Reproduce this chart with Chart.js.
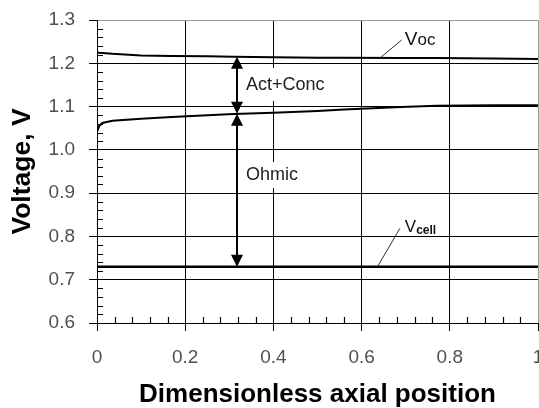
<!DOCTYPE html>
<html>
<head>
<meta charset="utf-8">
<script src="https://cdn.jsdelivr.net/npm/chart.js@4"></script>
<style>
  html, body { margin: 0; padding: 0; background: #fff; }
  #wrap { width: 539px; height: 408px; }
</style>
</head>
<body>
<div id="wrap"><canvas id="c" width="539" height="408"></canvas></div>
<script>
// Axial position along the cell (dimensionless)
const position = [0, 0.005, 0.012, 0.035, 0.1, 0.17, 0.25, 0.31, 0.4, 0.5, 0.56, 0.69, 0.77, 0.9, 1.0];
// Open-circuit voltage, V
const vOpenCircuit = [1.225, 1.2245, 1.224, 1.222, 1.218, 1.217, 1.216, 1.215, 1.214, 1.213, 1.213, 1.212, 1.212, 1.211, 1.210];
// Voltage after activation + concentration losses, V
const vAfterActConc = [1.042, 1.055, 1.062, 1.067, 1.072, 1.076, 1.080, 1.083, 1.086, 1.090, 1.093, 1.099, 1.102, 1.103, 1.103];
// Cell voltage, V
const vCell = [0.73, 0.73, 0.73, 0.73, 0.73, 0.73, 0.73, 0.73, 0.73, 0.73, 0.73, 0.73, 0.73, 0.73, 0.73];

const xTicks = [0, 0.2, 0.4, 0.6, 0.8, 1];
const yTicks = [0.6, 0.7, 0.8, 0.9, 1.0, 1.1, 1.2, 1.3];
const xMinorStep = 0.04;
const yMinorStep = 0.02;

// where the loss arrows are drawn
const arrowAt = 0.317;

const FONT = "'Liberation Sans', Arial, sans-serif";

function pairs(ys) { return position.map((x, i) => ({ x: x, y: ys[i] })); }
function valueAt(ys, x) {
  for (let i = 1; i < position.length; i++) {
    if (x <= position[i]) {
      const t = (x - position[i - 1]) / (position[i] - position[i - 1]);
      return ys[i - 1] + t * (ys[i] - ys[i - 1]);
    }
  }
  return ys[ys.length - 1];
}

function arrowHead(ctx, x, yTip, dir) {
  // dir = -1 points up, +1 points down
  const w = 6, l = 12;
  ctx.beginPath();
  ctx.moveTo(x, yTip);
  ctx.lineTo(x - w, yTip - dir * l);
  ctx.lineTo(x + w, yTip - dir * l);
  ctx.closePath();
  ctx.fill();
}

const decorations = {
  id: 'decorations',
  beforeDatasetsDraw(chart) {
    const { ctx, scales: { x, y } } = chart;
    ctx.save();
    // minor ticks inside the plot along both axes
    ctx.strokeStyle = '#000';
    ctx.lineWidth = 1.2;
    ctx.beginPath();
    const left = Math.round(chart.chartArea.left);
    for (let v = 0.6 + yMinorStep; v < 1.3 - 1e-9; v += yMinorStep) {
      if (Math.abs(v * 10 - Math.round(v * 10)) < 1e-6) continue;
      const py = Math.round(y.getPixelForValue(v)) + 0.5;
      ctx.moveTo(left, py); ctx.lineTo(left + 6, py);
    }
    const bottom = Math.round(chart.chartArea.bottom);
    for (let v = xMinorStep; v < 1 - 1e-9; v += xMinorStep) {
      if (Math.abs(v * 5 - Math.round(v * 5)) < 1e-6) continue;
      const px = Math.round(x.getPixelForValue(v)) + 0.5;
      ctx.moveTo(px, bottom); ctx.lineTo(px, bottom - 6);
    }
    ctx.stroke();

    // white backing behind the loss labels
    ctx.fillStyle = '#fff';
    ctx.font = '18px ' + FONT;
    const boxes = [
      { text: 'Act+Conc', x: 0.338, y: 1.15, up: 17, down: 16 },
      { text: 'Ohmic', x: 0.338, y: 0.942, up: 13, down: 13 }
    ];
    boxes.forEach(b => {
      const px = x.getPixelForValue(b.x), py = y.getPixelForValue(b.y);
      const w = ctx.measureText(b.text).width;
      ctx.fillRect(px - 4, py - b.up, w + 8, b.up + b.down);
    });
    ctx.restore();
  },
  afterDatasetsDraw(chart) {
    const { ctx, scales: { x, y } } = chart;
    ctx.save();
    const ax = Math.round(x.getPixelForValue(arrowAt));
    const yTop = y.getPixelForValue(valueAt(vOpenCircuit, arrowAt));
    const yMid = y.getPixelForValue(valueAt(vAfterActConc, arrowAt));
    const yBot = y.getPixelForValue(valueAt(vCell, arrowAt));
    ctx.strokeStyle = '#000';
    ctx.fillStyle = '#000';
    ctx.lineWidth = 2;
    ctx.beginPath();
    ctx.moveTo(ax, yTop + 10); ctx.lineTo(ax, yMid - 10);
    ctx.moveTo(ax, yMid + 10); ctx.lineTo(ax, yBot - 10);
    ctx.stroke();
    arrowHead(ctx, ax, yTop, -1);
    arrowHead(ctx, ax, yMid, 1);
    arrowHead(ctx, ax, yMid, -1);
    arrowHead(ctx, ax, yBot, 1);

    // loss labels
    ctx.fillStyle = '#222';
    ctx.font = '18px ' + FONT;
    ctx.textBaseline = 'middle';
    ctx.fillText('Act+Conc', x.getPixelForValue(0.338), y.getPixelForValue(1.15));
    ctx.fillText('Ohmic', x.getPixelForValue(0.338), y.getPixelForValue(0.942));

    // leader lines to the curve names
    ctx.strokeStyle = '#333';
    ctx.lineWidth = 1;
    ctx.beginPath();
    ctx.moveTo(x.getPixelForValue(0.642), y.getPixelForValue(valueAt(vOpenCircuit, 0.642)));
    ctx.lineTo(x.getPixelForValue(0.691), y.getPixelForValue(1.254));
    ctx.moveTo(x.getPixelForValue(0.636), y.getPixelForValue(0.73));
    ctx.lineTo(x.getPixelForValue(0.687), y.getPixelForValue(0.819));
    ctx.stroke();

    ctx.fillStyle = '#111';
    ctx.textBaseline = 'alphabetic';
    let lx = x.getPixelForValue(0.698), ly = y.getPixelForValue(1.2422);
    ctx.font = '19px ' + FONT;
    ctx.fillText('V', lx, ly);
    let vw = ctx.measureText('V').width;
    ctx.font = '17px ' + FONT;
    ctx.fillText('oc', lx + vw, ly);

    lx = x.getPixelForValue(0.698); ly = y.getPixelForValue(0.8091);
    ctx.font = '17px ' + FONT;
    ctx.fillText('V', lx, ly);
    vw = ctx.measureText('V').width;
    ctx.font = 'bold 12px ' + FONT;
    ctx.fillText('cell', lx + vw, ly + 2);
    ctx.restore();
  }
};

const lineStyle = { borderColor: '#000', borderWidth: 2, pointRadius: 0, tension: 0, fill: false };

new Chart(document.getElementById('c'), {
  type: 'line',
  data: {
    datasets: [
      Object.assign({ label: 'Voc', data: pairs(vOpenCircuit) }, lineStyle),
      Object.assign({ label: 'Act+Conc', data: pairs(vAfterActConc) }, lineStyle),
      Object.assign({ label: 'Vcell', data: pairs(vCell) }, lineStyle, { borderWidth: 2.5 })
    ]
  },
  options: {
    responsive: false,
    animation: false,
    events: [],
    layout: { padding: { top: 20, right: 1, left: 0, bottom: 0 } },
    plugins: { legend: { display: false }, tooltip: { enabled: false } },
    scales: {
      x: {
        type: 'linear', min: 0, max: 1,
        afterBuildTicks: s => { s.ticks = xTicks.map(v => ({ value: v })); },
        afterFit: s => { s.height = 85; s.paddingLeft = 0; s.paddingRight = 0; },
        ticks: {
          padding: 15, color: '#505050', maxRotation: 0, autoSkip: false,
          font: { family: FONT, size: 19 },
          callback: v => (v === 0 || v === 1) ? String(v) : v.toFixed(1)
        },
        grid: {
          color: c => (c.tick && c.tick.value === 1) ? '#9a9a9a' : '#000',
          tickColor: '#000', tickLength: 8, lineWidth: 1
        },
        border: { color: '#000', width: 1 },
        title: {
          display: true, text: 'Dimensionless axial position', color: '#000',
          font: { family: FONT, size: 26, weight: 'bold', lineHeight: 1 },
          padding: { top: 0, bottom: 0 }
        }
      },
      y: {
        type: 'linear', min: 0.6, max: 1.3,
        afterBuildTicks: s => { s.ticks = yTicks.map(v => ({ value: v })); },
        afterFit: s => { s.width = 97; s.paddingTop = 0; s.paddingBottom = 0; },
        ticks: {
          padding: 14, color: '#505050',
          font: { family: FONT, size: 19 },
          callback: v => v.toFixed(1)
        },
        grid: {
          color: c => (c.tick && Math.abs(c.tick.value - 1.3) < 1e-9) ? '#9a9a9a' : '#000',
          tickColor: '#000', tickLength: 8, lineWidth: 1
        },
        border: { color: '#000', width: 1 },
        title: {
          display: true, text: 'Voltage, V', color: '#000',
          font: { family: FONT, size: 26.5, weight: 'bold', lineHeight: 1 },
          padding: { top: 9, bottom: 0 }
        }
      }
    }
  },
  plugins: [decorations]
});
</script>
</body>
</html>
